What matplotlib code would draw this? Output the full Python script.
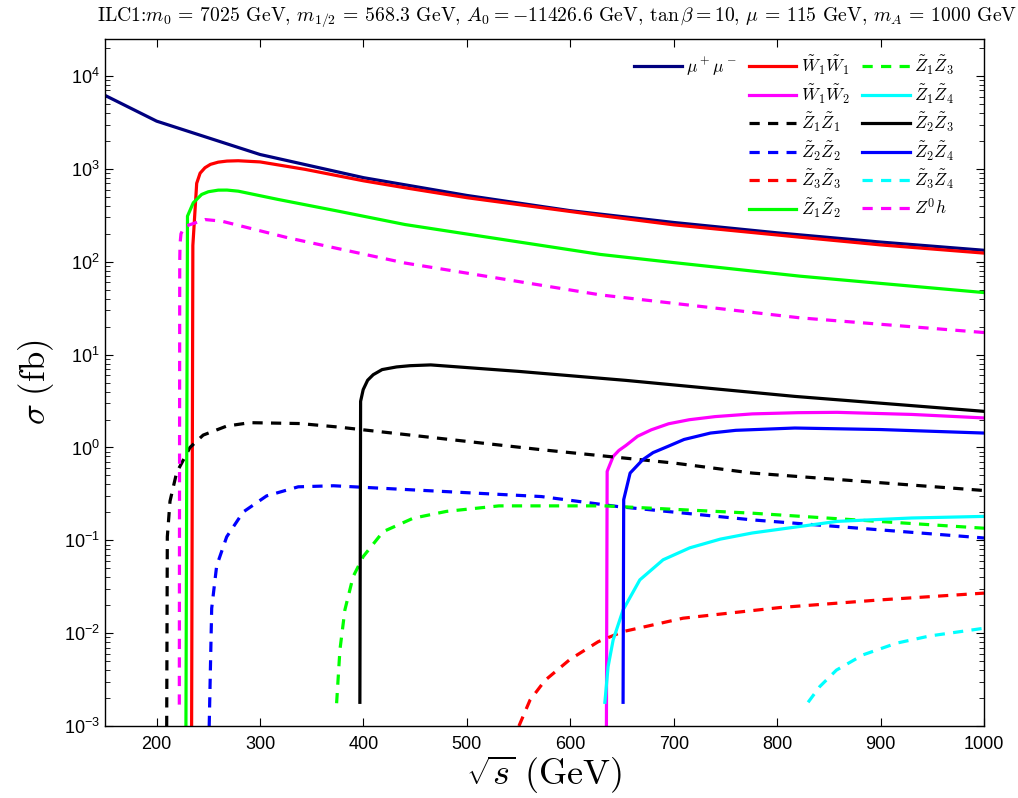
import numpy as np
import matplotlib
matplotlib.use("Agg")
import matplotlib.pyplot as plt
from matplotlib.lines import Line2D

plt.rcParams['font.family'] = ['Liberation Sans', 'DejaVu Sans']
plt.rcParams['mathtext.fontset'] = 'cm'

# ---- data (sqrt(s) in GeV, sigma in fb) ----
mumu_E = [150, 200, 300, 400, 500, 600, 700, 800, 900, 1000]
mumu_s = [6200, 3270, 1430, 805, 518, 355, 265, 205, 163, 133]

w1w1_E = [233.8, 235.0, 238.7, 242, 246.7, 252, 259.5, 268, 278.9, 300, 343.4, 400, 440, 500, 629, 700, 822, 900, 1000]
w1w1_s = [1e-3, 150, 700, 900, 1030, 1120, 1183, 1215, 1225, 1190, 990, 745, 627, 490, 315, 250, 184, 152, 124]

w1w2_E = [634.9, 635.6, 637.4, 641.4, 647, 653.7, 665, 678.3, 695, 715, 740, 776, 820, 858, 930, 1000]
w1w2_s = [1e-3, 0.552, 0.62, 0.80, 0.93, 1.05, 1.32, 1.55, 1.80, 1.99, 2.15, 2.30, 2.37, 2.39, 2.27, 2.08]

z1z1_E = [209.7, 210.3, 212.9, 219.3, 232.2, 245, 267.7, 290.2, 338.5, 375.6, 480.3, 572, 700, 776, 1000]
z1z1_s = [1e-3, 0.109, 0.264, 0.536, 1.0, 1.36, 1.70, 1.85, 1.81, 1.66, 1.23, 0.946, 0.68, 0.53, 0.344]

z2z2_E = [250.8, 253.2, 258, 267.7, 283.7, 306.3, 336.9, 371, 477, 572, 646, 776, 1000]
z2z2_s = [1e-3, 0.0185, 0.053, 0.109, 0.202, 0.301, 0.377, 0.387, 0.336, 0.296, 0.231, 0.166, 0.106]

z3z3_E = [550.3, 561, 575.5, 599.5, 627, 651, 709, 803, 899, 1000]
z3z3_s = [1e-3, 0.0019, 0.0031, 0.0052, 0.0081, 0.0104, 0.0145, 0.0189, 0.0228, 0.027]

z1z2_E = [228.3, 229.8, 235.4, 243.5, 250, 259.5, 268, 278.9, 317.5, 375.5, 440, 500, 629, 700, 822, 900, 1000]
z1z2_s = [1e-3, 310, 432, 531, 568, 591, 592, 576, 469, 351, 252, 199, 120, 98, 70, 58.5, 46.6]

z1z3_E = [374, 377.2, 382, 390, 399.7, 419, 448, 480.3, 531, 633, 776, 1000]
z1z3_s = [0.00176, 0.0066, 0.0178, 0.0407, 0.0668, 0.124, 0.173, 0.205, 0.235, 0.235, 0.196, 0.135]

z1z4_E = [633.4, 636.5, 641.4, 651, 667.2, 689.7, 715.5, 745, 776, 858, 930, 1000]
z1z4_s = [0.0018, 0.00435, 0.00845, 0.0178, 0.0375, 0.0617, 0.083, 0.103, 0.12, 0.16, 0.174, 0.181]

z2z3_E = [396.5, 397.2, 399.7, 404, 409.4, 418, 432, 445, 465, 550, 653.7, 817, 1000]
z2z3_s = [0.0018, 3.14, 4.2, 5.3, 6.08, 6.9, 7.37, 7.6, 7.75, 6.6, 5.28, 3.55, 2.45]

z2z4_E = [651, 651.6, 657.8, 670, 680, 694.6, 710, 735.5, 760, 817, 900, 1000]
z2z4_s = [0.0018, 0.274, 0.53, 0.738, 0.88, 1.03, 1.22, 1.43, 1.53, 1.62, 1.56, 1.43]

z3z4_E = [829.9, 841.2, 857.3, 883, 915.3, 947.5, 1000]
z3z4_s = [0.0018, 0.00266, 0.004, 0.00584, 0.0078, 0.00933, 0.0113]

zh_E = [221.9, 222.3, 222.6, 223.5, 226, 229, 246.7, 262.8, 327.2, 440, 629, 822, 1000]
zh_s = [0.0017, 100, 156, 200, 230, 244, 285, 274, 181, 97, 44, 24.9, 17.3]

xticks = [200, 300, 400, 500, 600, 700, 800, 900, 1000]

# ---- plot ----
fig = plt.figure(figsize=(10.18, 7.98), dpi=100)
ax = fig.add_axes([0.1031, 0.0902, 0.8635, 0.861])

lw = 2.3
dash = (3.2, 2.6)
navy = '#00007f'

series = [
    (mumu_E, mumu_s, navy, '-', r'$\mu^+\mu^-$'),
    (w1w1_E, w1w1_s, '#ff0000', '-', r'$\tilde{W}_1\tilde{W}_1$'),
    (w1w2_E, w1w2_s, '#ff00ff', '-', r'$\tilde{W}_1\tilde{W}_2$'),
    (z1z1_E, z1z1_s, '#000000', '--', r'$\tilde{Z}_1\tilde{Z}_1$'),
    (z2z2_E, z2z2_s, '#0000ff', '--', r'$\tilde{Z}_2\tilde{Z}_2$'),
    (z3z3_E, z3z3_s, '#ff0000', '--', r'$\tilde{Z}_3\tilde{Z}_3$'),
    (z1z2_E, z1z2_s, '#00ff00', '-', r'$\tilde{Z}_1\tilde{Z}_2$'),
    (z1z3_E, z1z3_s, '#00ff00', '--', r'$\tilde{Z}_1\tilde{Z}_3$'),
    (z1z4_E, z1z4_s, '#00ffff', '-', r'$\tilde{Z}_1\tilde{Z}_4$'),
    (z2z3_E, z2z3_s, '#000000', '-', r'$\tilde{Z}_2\tilde{Z}_3$'),
    (z2z4_E, z2z4_s, '#0000ff', '-', r'$\tilde{Z}_2\tilde{Z}_4$'),
    (z3z4_E, z3z4_s, '#00ffff', '--', r'$\tilde{Z}_3\tilde{Z}_4$'),
    (zh_E, zh_s, '#ff00ff', '--', r'$Z^0h$'),
]

handles = {}
for E, s, c, ls, lab in series:
    if ls == '--':
        ln, = ax.plot(E, s, color=c, lw=lw, dashes=dash, label=lab)
    else:
        ln, = ax.plot(E, s, color=c, lw=lw, ls='-', label=lab)
    handles[lab] = ln

ax.set_yscale('log')
ax.set_xlim(150, 1000)
ax.set_ylim(1e-3, 10**4.4)
ax.set_xticks(xticks)
ax.set_xticklabels([str(t) for t in xticks])
ax.set_yticks([1e-3, 1e-2, 1e-1, 1e0, 1e1, 1e2, 1e3, 1e4])
ax.tick_params(which='both', direction='in', top=True, right=True, labelsize=13)
ax.tick_params(which='major', length=6, width=0.8)
ax.tick_params(which='minor', length=3.5, width=0.6)
ax.tick_params(axis='x', pad=7)
for sp in ax.spines.values():
    sp.set_linewidth(1.0)

ax.set_xlabel(r'$\sqrt{s}\ \mathrm{(GeV)}$', fontsize=26, labelpad=1)
ax.set_ylabel(r'$\sigma\ \mathrm{(fb)}$', fontsize=25, labelpad=6)
ax.set_title(r'ILC1:$m_0$ = 7025 GeV, $m_{1/2}$ = 568.3 GeV, $A_0 = -11426.6$ GeV, $\tan\beta = 10$, $\mu$ = 115 GeV, $m_A$ = 1000 GeV',
             fontsize=14.2, pad=13, x=0.514, family='cmr10')

blank = Line2D([], [], color='none')
labs = [r'$\mu^+\mu^-$', '', '', '', '', '',
        r'$\tilde{W}_1\tilde{W}_1$', r'$\tilde{W}_1\tilde{W}_2$', r'$\tilde{Z}_1\tilde{Z}_1$',
        r'$\tilde{Z}_2\tilde{Z}_2$', r'$\tilde{Z}_3\tilde{Z}_3$', r'$\tilde{Z}_1\tilde{Z}_2$',
        r'$\tilde{Z}_1\tilde{Z}_3$', r'$\tilde{Z}_1\tilde{Z}_4$', r'$\tilde{Z}_2\tilde{Z}_3$',
        r'$\tilde{Z}_2\tilde{Z}_4$', r'$\tilde{Z}_3\tilde{Z}_4$', r'$Z^0h$']
hs = [handles[l] if l else blank for l in labs]
leg = ax.legend(hs, labs, ncol=3, loc='upper right', bbox_to_anchor=(0.966, 0.978),
                frameon=False, fontsize=12.5, handlelength=2.75, handletextpad=0.25,
                columnspacing=0.7, labelspacing=0.32, borderaxespad=0.0, borderpad=0.0)

fig.savefig('out.png', dpi=100)
